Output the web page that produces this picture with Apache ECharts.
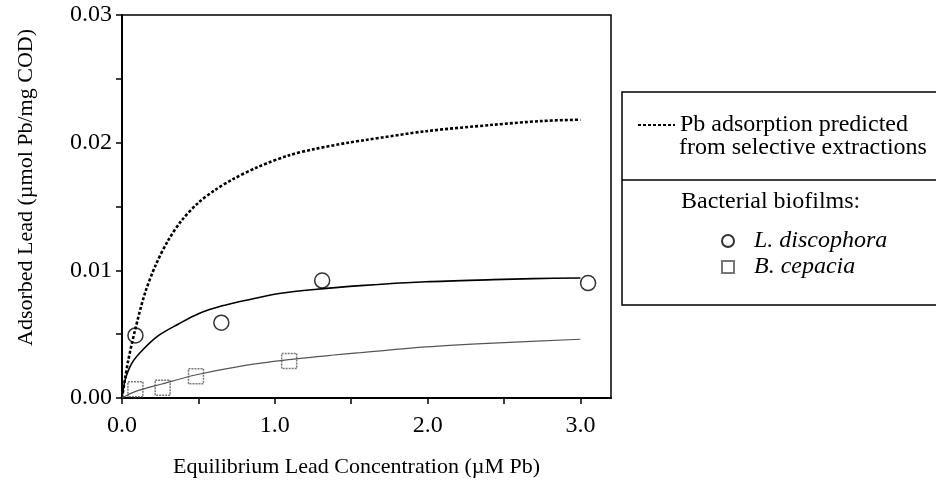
<!DOCTYPE html>
<html>
<head>
<meta charset="utf-8">
<script src="https://cdn.jsdelivr.net/npm/echarts@6/dist/echarts.min.js"></script>
<style>html,body{margin:0;padding:0;background:#fff}#c{width:936px;height:485px}</style>
</head>
<body>
<div id="c"></div>
<script>
// Predicted Pb adsorption (dotted curve)
const predX = [0, 0.02, 0.04, 0.085, 0.15, 0.22, 0.30, 0.39, 0.50, 0.61, 0.72, 0.89, 1.09, 1.26, 1.48, 1.59, 1.99, 2.43, 2.75, 3.0];
const predY = [0, 0.0015, 0.0029, 0.0053, 0.0082, 0.0104, 0.0123, 0.0139, 0.0153, 0.0163, 0.0171, 0.0181, 0.0190, 0.0195, 0.0200, 0.0202, 0.0209, 0.0214, 0.0217, 0.0218];
// L. discophora fit (solid curve)
const ldFitX = [0, 0.02, 0.063, 0.13, 0.24, 0.37, 0.50, 0.65, 0.83, 1.04, 1.26, 1.56, 1.99, 2.43, 2.69, 3.0];
const ldFitY = [0, 0.0014, 0.0027, 0.0037, 0.0049, 0.0058, 0.0066, 0.0072, 0.0077, 0.0082, 0.0085, 0.0088, 0.0091, 0.00927, 0.00935, 0.0094];
// B. cepacia fit (thin curve)
const bcFitX = [0, 0.085, 0.26, 0.48, 0.78, 1.09, 1.37, 1.56, 1.99, 2.43, 3.0];
const bcFitY = [0, 0.0005, 0.0011, 0.0018, 0.0025, 0.0030, 0.00335, 0.00355, 0.0040, 0.0043, 0.0046];
// Measured points
const ldX = [0.088, 0.65, 1.31, 3.05];
const ldY = [0.0049, 0.0059, 0.0092, 0.0090];
const bcX = [0.088, 0.266, 0.484, 1.094];
const bcY = [0.00068, 0.0008, 0.0017, 0.0029];
// Ticks
const xTicks = [0, 0.5, 1.0, 1.5, 2.0, 2.5, 3.0];
const xLabels = [0, 1.0, 2.0, 3.0];
const yTicks = [0, 0.005, 0.01, 0.015, 0.02, 0.025, 0.03];
const yLabels = [0, 0.01, 0.02, 0.03];

const predName = 'Pb adsorption predicted';
const predName2 = 'from selective extractions';
const ldName = 'L. discophora';
const bcName = 'B. cepacia';
const FONT = '"Liberation Serif", "DejaVu Serif", serif';
const pairs = (xs, ys) => xs.map((x, i) => [x, ys[i]]);

const chart = echarts.init(document.getElementById('c'), null, {renderer: 'canvas'});
chart.setOption({
  animation: false,
  backgroundColor: '#fff',
  textStyle: {fontFamily: FONT, color: '#000'},
  grid: {left: 122, right: 325, top: 15, bottom: 87, show: true, borderColor: '#000', borderWidth: 1.5, backgroundColor: 'transparent'},
  xAxis: {
    type: 'value', min: 0, max: 3.2,
    name: 'Equilibrium Lead Concentration (\u00b5M Pb)',
    nameLocation: 'middle', nameGap: 58,
    nameTextStyle: {fontFamily: FONT, fontSize: 22, color: '#000', padding: [0, 20, 0, 0]},
    axisLine: {lineStyle: {color: '#000', width: 2}},
    axisTick: {inside: false, customValues: xTicks, length: 6, lineStyle: {color: '#000', width: 1.5}},
    axisLabel: {customValues: xLabels, margin: 16, fontFamily: FONT, fontSize: 24, color: '#000', formatter: v => Number(v).toFixed(1)},
    splitLine: {show: false}
  },
  yAxis: {
    type: 'value', min: 0, max: 0.03,
    name: 'Adsorbed Lead (\u00b5mol Pb/mg COD)',
    nameLocation: 'middle', nameGap: 85,
    nameTextStyle: {fontFamily: FONT, fontSize: 22, color: '#000', padding: [0, 0, 0, 38]},
    axisLine: {lineStyle: {color: '#000', width: 2}},
    axisTick: {inside: false, customValues: yTicks, length: 6, lineStyle: {color: '#000', width: 1.5}},
    axisLabel: {customValues: yLabels, margin: 10, fontFamily: FONT, fontSize: 24, color: '#000', formatter: v => Number(v).toFixed(2)},
    splitLine: {show: false}
  },
  legend: [
    {
      data: [{name: predName, itemStyle: {opacity: 0}}], left: 637, top: 113, padding: 0,
      itemWidth: 37, itemHeight: 10, selectedMode: false,
      textStyle: {fontFamily: FONT, fontSize: 24, color: '#000'}
    },
    {
      data: [ldName], left: 721, top: 229, padding: 0,
      itemWidth: 12, itemHeight: 12, selectedMode: false,
      textStyle: {fontFamily: FONT, fontSize: 24, fontStyle: 'italic', color: '#000', padding: [0, 0, 0, 15]}
    },
    {
      data: [bcName], left: 721, top: 255, padding: 0,
      itemWidth: 12, itemHeight: 12, selectedMode: false,
      textStyle: {fontFamily: FONT, fontSize: 24, fontStyle: 'italic', color: '#000', padding: [0, 0, 0, 15]}
    }
  ],
  graphic: [
    {type: 'rect', shape: {x: 622, y: 92, width: 400, height: 213}, style: {fill: 'none', stroke: '#000', lineWidth: 1.5}, silent: true},
    {type: 'line', shape: {x1: 622, y1: 180, x2: 936, y2: 180}, style: {stroke: '#000', lineWidth: 1.5}, silent: true},
    {type: 'text', x: 679, y: 148, style: {text: predName2, font: '24px ' + FONT, fill: '#000', verticalAlign: 'middle'}, silent: true},
    {type: 'text', x: 681, y: 202, style: {text: 'Bacterial biofilms:', font: '24px ' + FONT, fill: '#000', verticalAlign: 'middle'}, silent: true}
  ],
  series: [
    {
      name: predName, type: 'line', data: pairs(predX, predY), smooth: 0.3, showSymbol: false, symbol: 'none',
      lineStyle: {color: '#000', width: 2.6, type: [3, 2]}, itemStyle: {color: '#000'}, z: 2
    },
    {
      name: 'ldFit', type: 'line', data: pairs(ldFitX, ldFitY), smooth: 0.3, symbol: 'none',
      lineStyle: {color: '#000', width: 1.6}, z: 2
    },
    {
      name: 'bcFit', type: 'line', data: pairs(bcFitX, bcFitY), smooth: 0.3, symbol: 'none',
      lineStyle: {color: '#555', width: 1.2}, z: 2
    },
    {
      name: ldName, type: 'scatter', data: pairs(ldX, ldY), symbol: 'circle', symbolSize: 15,
      itemStyle: {color: 'rgba(0,0,0,0)', borderColor: '#000', borderWidth: 1.5}, z: 3
    },
    {
      name: bcName, type: 'scatter', data: pairs(bcX, bcY), symbol: 'rect', symbolSize: 15,
      itemStyle: {color: 'rgba(0,0,0,0)', borderColor: '#555', borderWidth: 1.5, borderType: [2, 1]}, z: 3
    }
  ]
});
</script>
</body>
</html>
